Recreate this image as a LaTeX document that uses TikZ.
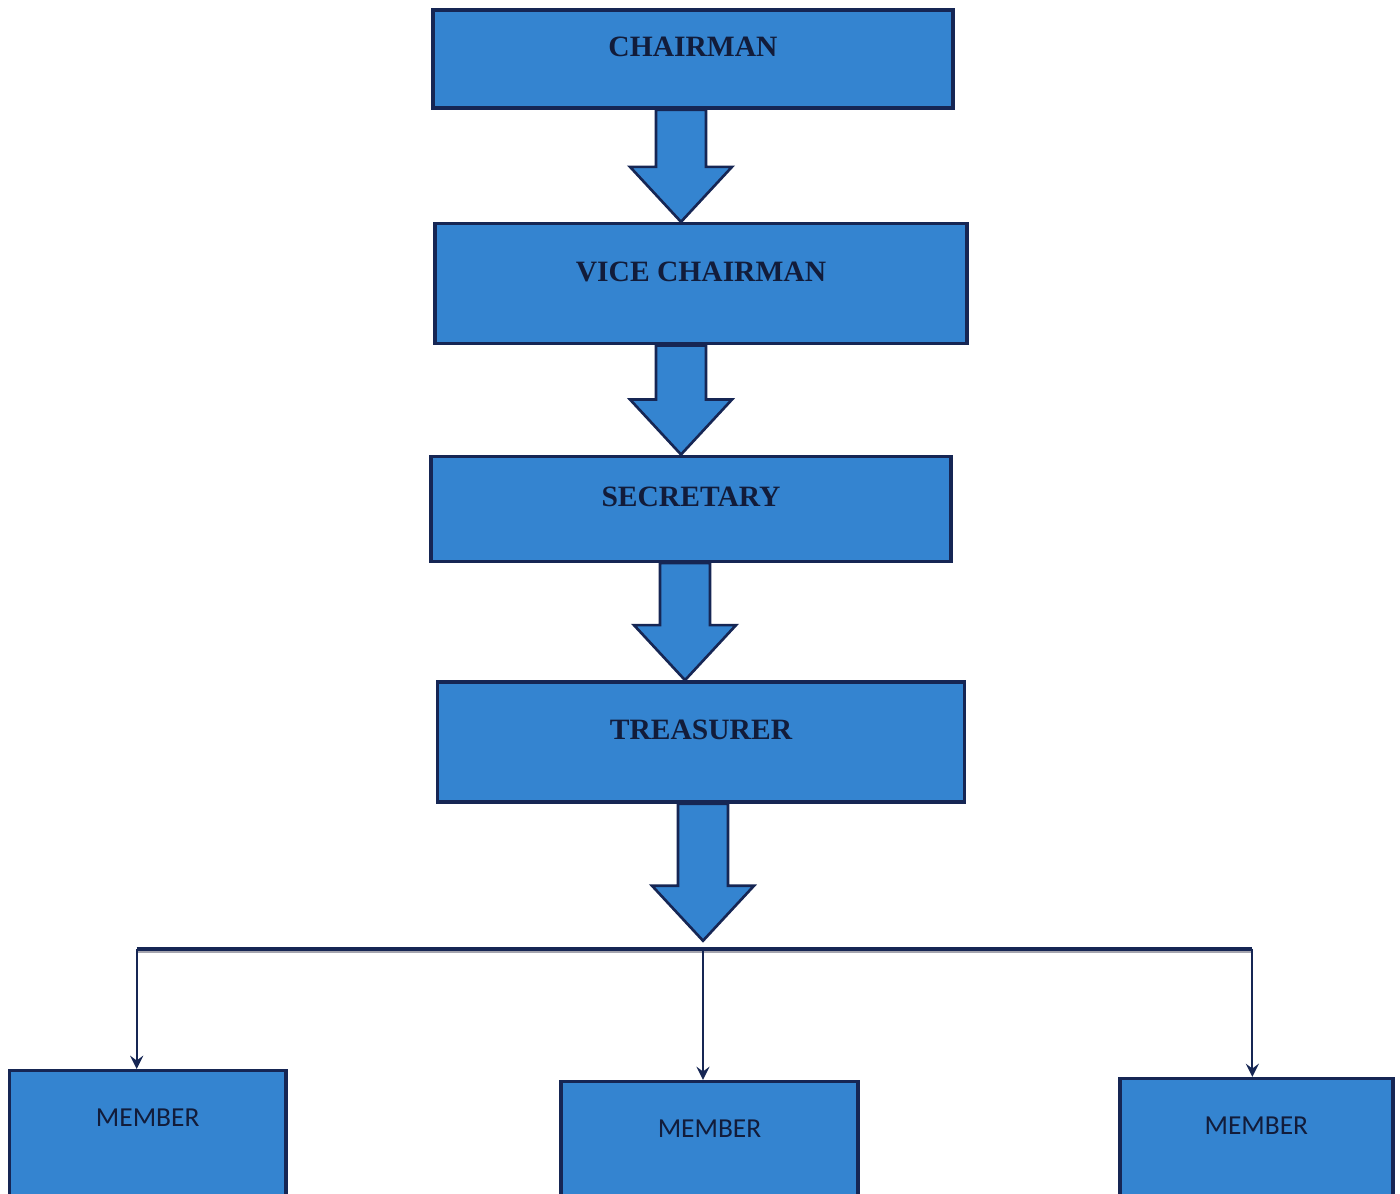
\documentclass[tikz,border=0pt]{standalone}
\usepackage{fontspec}
\setmainfont{Liberation Serif}
\newfontfamily\memberfont{Carlito}
\usetikzlibrary{shapes.geometric, arrows, calc, positioning}
\definecolor{boxblue}{RGB}{52,132,208}
\definecolor{boxline}{RGB}{22,38,84}
\definecolor{textnavy}{RGB}{18,28,58}
\definecolor{busgrey}{RGB}{165,165,175}
\tikzstyle{block} = [rectangle, draw=boxline, line width=1pt, fill=boxblue, text=textnavy, font=\fontsize{8.4}{10}\selectfont\bfseries, text height=6pt, text depth=7.3pt, inner sep=0pt]
\tikzstyle{member} = [rectangle, draw=boxline, line width=1pt, fill=boxblue, text=textnavy, font=\memberfont\fontsize{7.8}{9}\selectfont, text height=6pt, text depth=14pt, minimum height=1.4cm, inner sep=0pt]
\tikzstyle{bigarrow} = [draw=boxline, line width=0.75pt, fill=boxblue, line join=miter]
\tikzstyle{bus} = [draw=boxline, line width=1.1pt]
\tikzstyle{busshade} = [draw=busgrey, line width=0.7pt]
\tikzstyle{arrow} = [draw=boxline, line width=0.65pt, ->, >=stealth]
\newcommand{\blockarrow}[3]{%
	\coordinate (Top) at ($(#1.south)+(#3,0)$);
	\coordinate (Tip) at (Top |- #2);
	\draw [bigarrow] ($(Top)+(-25,0)$) -- ($(Tip)+(-25,-55)$) -- ($(Tip)+(-51,-55)$) -- (Tip) -- ($(Tip)+(51,-55)$) -- ($(Tip)+(25,-55)$) -- ($(Top)+(25,0)$) -- cycle;
}

\begin{document}
\begin{tikzpicture}[x=0.01cm, y=-0.01cm]
	\useasboundingbox (0,0) rectangle (1400,1194);
	\clip (0,0) rectangle (1400,1194);
	\node (Chairman) [block, minimum width=5.2cm, minimum height=0.98cm] at (693,59) {CHAIRMAN};
	\node (Vice) [block, minimum width=5.32cm, minimum height=1.2cm, below = 1.12cm of Chairman, xshift=0.08cm] {VICE CHAIRMAN};
	\node (Secretary) [block, minimum width=5.2cm, minimum height=1.05cm, below = 1.09cm of Vice, xshift=-0.1cm] {SECRETARY};
	\node (Treasurer) [block, minimum width=5.27cm, minimum height=1.2cm, below = 1.17cm of Secretary, xshift=0.1cm] {TREASURER};
	\node (Member1) [member, minimum width=2.76cm, below = 2.65cm of Treasurer, xshift=-5.53cm] {MEMBER};
	\node (Member2) [member, minimum width=2.97cm, below = 2.76cm of Treasurer, xshift=0.085cm] {MEMBER};
	\node (Member3) [member, minimum width=2.73cm, below = 2.73cm of Treasurer, xshift=5.55cm] {MEMBER};
	\coordinate (Hub) at ($(Treasurer.south)+(0,137)$);
	\coordinate (BusL) at ($(Hub -| Member1.north)+(-11,8)$);
	\coordinate (BusM) at ($(Hub)+(2,8)$);
	\coordinate (BusR) at ($(Hub -| Member3.north)+(-4,8)$);
	\blockarrow{Chairman}{Vice.north}{-12}
	\blockarrow{Vice}{Secretary.north}{-20}
	\blockarrow{Secretary}{Treasurer.north}{-6}
	\blockarrow{Treasurer}{Hub}{2}
	\draw [busshade] ($(BusL)+(0,3.5)$) -- ($(BusR)+(0,3.5)$);
	\draw [bus] (BusL) -- (BusR);
	\draw [arrow] (BusL) -- (BusL |- Member1.north);
	\draw [arrow] (BusM) -- (BusM |- Member2.north);
	\draw [arrow] (BusR) -- (BusR |- Member3.north);
\end{tikzpicture}
\end{document}
